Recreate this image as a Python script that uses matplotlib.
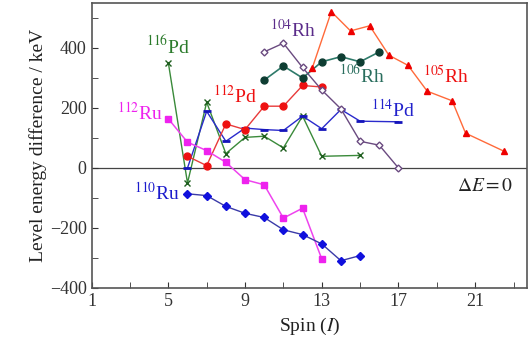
import numpy as np
import matplotlib
matplotlib.use('Agg')
import matplotlib.pyplot as plt
from matplotlib.ticker import MultipleLocator

plt.rcParams['font.family'] = ['Liberation Serif', 'DejaVu Serif']
plt.rcParams['mathtext.fontset'] = 'stix'

# values (spin, keV)
pd116_spin = [5, 6, 7, 8, 9, 10, 11, 12, 13, 15]
pd116_de = [351, -50, 219, 48, 102, 106, 67, 173, 39, 42]

pd114_spin = [6, 7, 8, 9, 10, 11, 12, 13, 14, 15, 17]
pd114_de = [0, 189, 89, 133, 128, 125, 173, 131, 195, 156, 154]

pd112_spin = [6, 7, 8, 9, 10, 11, 12, 13]
pd112_de = [39, 8, 147, 128, 206, 206, 275, 270]

rh106_spin = [10, 11, 12, 13, 14, 15, 16]
rh106_de = [293, 340, 300, 354, 371, 354, 387]

rh104_spin = [10, 11, 12, 13, 14, 15, 16, 17]
rh104_de = [387, 416, 335, 260, 197, 89, 76, 0]

rh105_spin = [12.5, 13.5, 14.5, 15.5, 16.5, 17.5, 18.5, 19.8, 20.5, 22.5]
rh105_de = [332, 521, 457, 474, 376, 342, 256, 224, 116, 56]

ru112_spin = [5, 6, 7, 8, 9, 10, 11, 12, 13]
ru112_de = [164, 86, 58, 19, -39, -56, -167, -134, -303]

ru110_spin = [6, 7, 8, 9, 10, 11, 12, 13, 14, 15]
ru110_de = [-86, -92, -128, -151, -165, -206, -222, -253, -309, -292]

x_major = [1, 5, 9, 13, 17, 21]
x_minor = [3, 7, 11, 15, 19, 23]
y_major = [-400, -200, 0, 200, 400]
y_labels = ['\u2212400', '\u2212200', '0', '200', '400']

fig = plt.figure(figsize=(5.28, 3.6), dpi=100)
ax = fig.add_axes([0.1735, 0.2, 0.8245, 0.7917])

ax.axhline(0, color='#444444', lw=0.9, zorder=1)

ax.plot(pd116_spin, pd116_de, color='#3a8a3a', lw=1, marker='x', ms=4.5,
        mec='#1f5f1f', mew=1)
ax.plot(pd114_spin, pd114_de, color='#2a2acc', lw=1, marker='_', ms=6,
        mew=2, mec='#1515bb')
ax.plot(pd112_spin, pd112_de, color='#e83a3a', lw=1, marker='o', ms=5,
        mfc='#ee1111', mec='#ee1111')
ax.plot(rh106_spin, rh106_de, color='#2e7a6a', lw=1.2, marker='o', ms=5,
        mfc='#0e3d32', mec='#0e3d32')
ax.plot(rh104_spin, rh104_de, color='#6a4a80', lw=1, marker='D', ms=3.5,
        mfc='white', mec='#6a4a80', mew=1)
ax.plot(rh105_spin, rh105_de, color='#ff6a3a', lw=1, marker='^', ms=4.5,
        mfc='#ee0000', mec='#ee0000')
ax.plot(ru112_spin, ru112_de, color='#ee44ee', lw=1.1, marker='s', ms=4,
        mfc='#ee22ee', mec='#ee22ee')
ax.plot(ru110_spin, ru110_de, color='#3a3aa8', lw=1, marker='D', ms=4,
        mfc='#1010dd', mec='#1010dd')

fs = 14
ax.text(5, 405, r'$^{116}$Pd', color='#2a7a2a', fontsize=fs, ha='center', va='center')
ax.text(11.5, 462, r'$^{104}$Rh', color='#5b2c8a', fontsize=fs, ha='center', va='center')
ax.text(8.5, 243, r'$^{112}$Pd', color='#ee1111', fontsize=fs, ha='center', va='center')
ax.text(3.5, 185, r'$^{112}$Ru', color='#ee22ee', fontsize=fs, ha='center', va='center')
ax.text(15.1, 309, r'$^{106}$Rh', color='#2a6e5e', fontsize=fs, ha='center', va='center')
ax.text(19.5, 306, r'$^{105}$Rh', color='#ee1111', fontsize=fs, ha='center', va='center')
ax.text(16.7, 194, r'$^{114}$Pd', color='#2222cc', fontsize=fs, ha='center', va='center')
ax.text(4.4, -83, r'$^{110}$Ru', color='#1a1acc', fontsize=fs, ha='center', va='center')
ax.text(21.5, -63, r'$\Delta E = 0$', color='#222222', fontsize=fs, ha='center', va='center')

ax.set_xlim(1, 23.7)
ax.set_ylim(-400, 550)
ax.set_xticks(x_major)
ax.set_xticks(x_minor, minor=True)
ax.set_yticks(y_major)
ax.set_yticklabels(y_labels)
ax.yaxis.set_minor_locator(MultipleLocator(100))
ax.tick_params(which='both', direction='in', labelsize=13, colors='#333333')
ax.tick_params(which='major', length=4)
ax.tick_params(which='minor', length=4)
for s in ax.spines.values():
    s.set_color('#555555')
    s.set_linewidth(1.2)

ax.set_xlabel(r'Spin ($I$)', fontsize=14, color='#222222', labelpad=4)
ax.set_ylabel('Level energy difference / keV', fontsize=14, color='#222222',
              labelpad=2)

fig.savefig('out.png', dpi=100)
